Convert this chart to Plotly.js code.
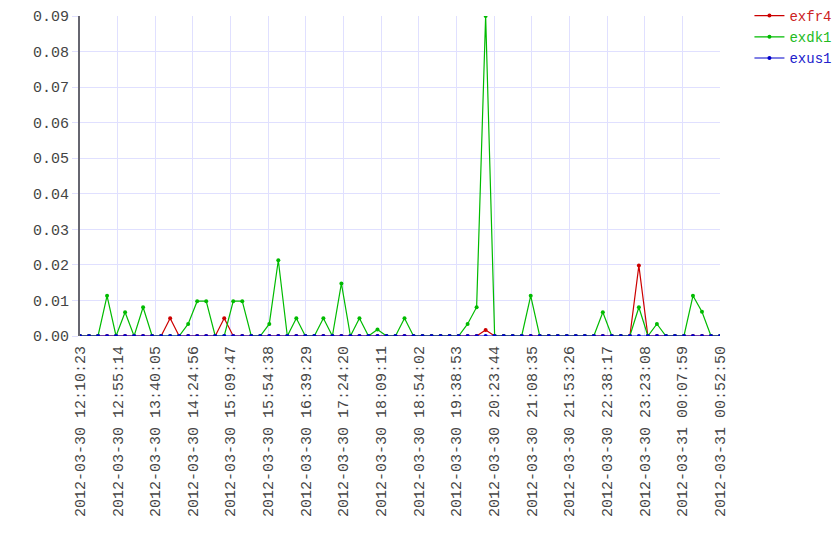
<!DOCTYPE html>
<html>
<head>
<meta charset="utf-8">
<script src="https://cdn.plot.ly/plotly-3.0.1.min.js"></script>
<style>html,body{margin:0;padding:0;background:#fff;}#chart{width:840px;height:560px;}</style>
</head>
<body>
<div id="chart"></div>
<script>
const times = [
"2012-03-30 12:10:23","2012-03-30 12:21:07","2012-03-30 12:31:52","2012-03-30 12:42:36","2012-03-30 12:53:20",
"2012-03-30 13:04:05","2012-03-30 13:14:49","2012-03-30 13:25:33","2012-03-30 13:36:18","2012-03-30 13:47:02",
"2012-03-30 13:57:46","2012-03-30 14:08:31","2012-03-30 14:19:15","2012-03-30 14:29:59","2012-03-30 14:40:44",
"2012-03-30 14:51:28","2012-03-30 15:02:12","2012-03-30 15:12:57","2012-03-30 15:23:41","2012-03-30 15:34:25",
"2012-03-30 15:45:09","2012-03-30 15:55:54","2012-03-30 16:06:38","2012-03-30 16:17:22","2012-03-30 16:28:07",
"2012-03-30 16:38:51","2012-03-30 16:49:35","2012-03-30 17:00:20","2012-03-30 17:11:04","2012-03-30 17:21:48",
"2012-03-30 17:32:33","2012-03-30 17:43:17","2012-03-30 17:54:01","2012-03-30 18:04:46","2012-03-30 18:15:30",
"2012-03-30 18:26:14","2012-03-30 18:36:59","2012-03-30 18:47:43","2012-03-30 18:58:27","2012-03-30 19:09:12",
"2012-03-30 19:19:56","2012-03-30 19:30:40","2012-03-30 19:41:25","2012-03-30 19:52:09","2012-03-30 20:02:53",
"2012-03-30 20:13:38","2012-03-30 20:24:22","2012-03-30 20:35:06","2012-03-30 20:45:51","2012-03-30 20:56:35",
"2012-03-30 21:07:19","2012-03-30 21:18:04","2012-03-30 21:28:48","2012-03-30 21:39:32","2012-03-30 21:50:16",
"2012-03-30 22:01:01","2012-03-30 22:11:45","2012-03-30 22:22:29","2012-03-30 22:33:14","2012-03-30 22:43:58",
"2012-03-30 22:54:42","2012-03-30 23:05:27","2012-03-30 23:16:11","2012-03-30 23:26:55","2012-03-30 23:37:40",
"2012-03-30 23:48:24","2012-03-30 23:59:08","2012-03-31 00:09:53","2012-03-31 00:20:37","2012-03-31 00:31:21",
"2012-03-31 00:42:06","2012-03-31 00:52:50"
];

const exfr4 = [
0,0,0,0,0, 0,0,0,0,0, 0.005,0,0,0,0, 0,0.005,0,0,0,
0,0,0,0,0, 0,0,0,0,0, 0,0,0,0,0, 0,0,0,0,0,
0,0,0,0,0, 0.0017,0,0,0,0, 0,0,0,0,0, 0,0,0,0,0,
0,0,0.0198,0,0, 0,0,0,0,0, 0,0
];

const exdk1 = [
0,0,0,0.0113,0, 0.0067,0,0.0081,0,0, 0,0,0.0034,0.0098,0.0098, 0,0,0.0098,0.0098,0,
0,0.0034,0.0213,0,0.005, 0,0,0.005,0,0.0148, 0,0.005,0,0.0018,0, 0,0.005,0,0,0,
0,0,0,0.0034,0.0081, 0.09,0,0,0,0, 0.0113,0,0,0,0, 0,0,0,0.0067,0,
0,0,0.0081,0,0.0034, 0,0,0,0.0113,0.0068, 0,0
];

const exus1 = [
0,0,0,0,0, 0,0,0,0,0, 0,0,0,0,0, 0,0,0,0,0,
0,0,0,0,0, 0,0,0,0,0, 0,0,0,0,0, 0,0,0,0,0,
0,0,0,0,0, 0,0,0,0,0, 0,0,0,0,0, 0,0,0,0,0,
0,0,0,0,0, 0,0,0,0,0, 0,0
];

const tickLabels = [
"2012-03-30 12:10:23","2012-03-30 12:55:14","2012-03-30 13:40:05","2012-03-30 14:24:56",
"2012-03-30 15:09:47","2012-03-30 15:54:38","2012-03-30 16:39:29","2012-03-30 17:24:20",
"2012-03-30 18:09:11","2012-03-30 18:54:02","2012-03-30 19:38:53","2012-03-30 20:23:44",
"2012-03-30 21:08:35","2012-03-30 21:53:26","2012-03-30 22:38:17","2012-03-30 23:23:08",
"2012-03-31 00:07:59","2012-03-31 00:52:50"
];

const fam = "'Courier New', Courier, 'Nimbus Mono PS', FreeMono, 'Liberation Mono', monospace";
const font = {family: fam, size: 15, color: "#444"};
const grid = "#e0e0ff";

function series(name, y, color) {
  return {
    type: "scatter", mode: "lines+markers", name: name,
    x: times, y: y,
    line: {color: color, width: 1.2},
    marker: {color: color, size: 4}
  };
}

const data = [
  series("exfr4", exfr4, "#cc0000"),
  series("exdk1", exdk1, "#00bb00"),
  series("exus1", exus1, "#0000cc")
];

const layout = {
  width: 840, height: 560,
  margin: {l: 80, r: 120, t: 16, b: 224, autoexpand: false},
  paper_bgcolor: "#fff", plot_bgcolor: "#fff",
  font: font,
  showlegend: true,
  legend: {
    x: 1.046, xanchor: "left", y: 1.05, yanchor: "top",
    tracegroupgap: 0, itemwidth: 30,
    font: {family: fam, size: 14}
  },
  xaxis: {
    type: "date", automargin: false,
    range: [times[0], times[times.length - 1]],
    tickmode: "array", tickvals: tickLabels, ticktext: tickLabels,
    tickangle: -90,
    showgrid: true, gridcolor: grid, gridwidth: 1,
    zeroline: false, showline: false,
    ticks: "outside", ticklen: 3, tickcolor: "rgba(0,0,0,0)", tickfont: font
  },
  yaxis: {
    automargin: false,
    range: [0, 0.09],
    tickmode: "linear", tick0: 0, dtick: 0.01, tickformat: ".2f",
    showgrid: true, gridcolor: grid, gridwidth: 1,
    zeroline: false,
    showline: true, linecolor: "#666670", linewidth: 2,
    ticks: "outside", ticklen: 6, tickcolor: grid,
    tickfont: font
  }
};

Plotly.newPlot("chart", data, layout, {displayModeBar: false, staticPlot: true}).then(function () {
  const colors = ["#cc2222", "#22bb22", "#2222cc"];
  document.querySelectorAll(".legendtext").forEach(function (t, i) {
    t.style.fill = colors[i];
  });
});
</script>
</body>
</html>
